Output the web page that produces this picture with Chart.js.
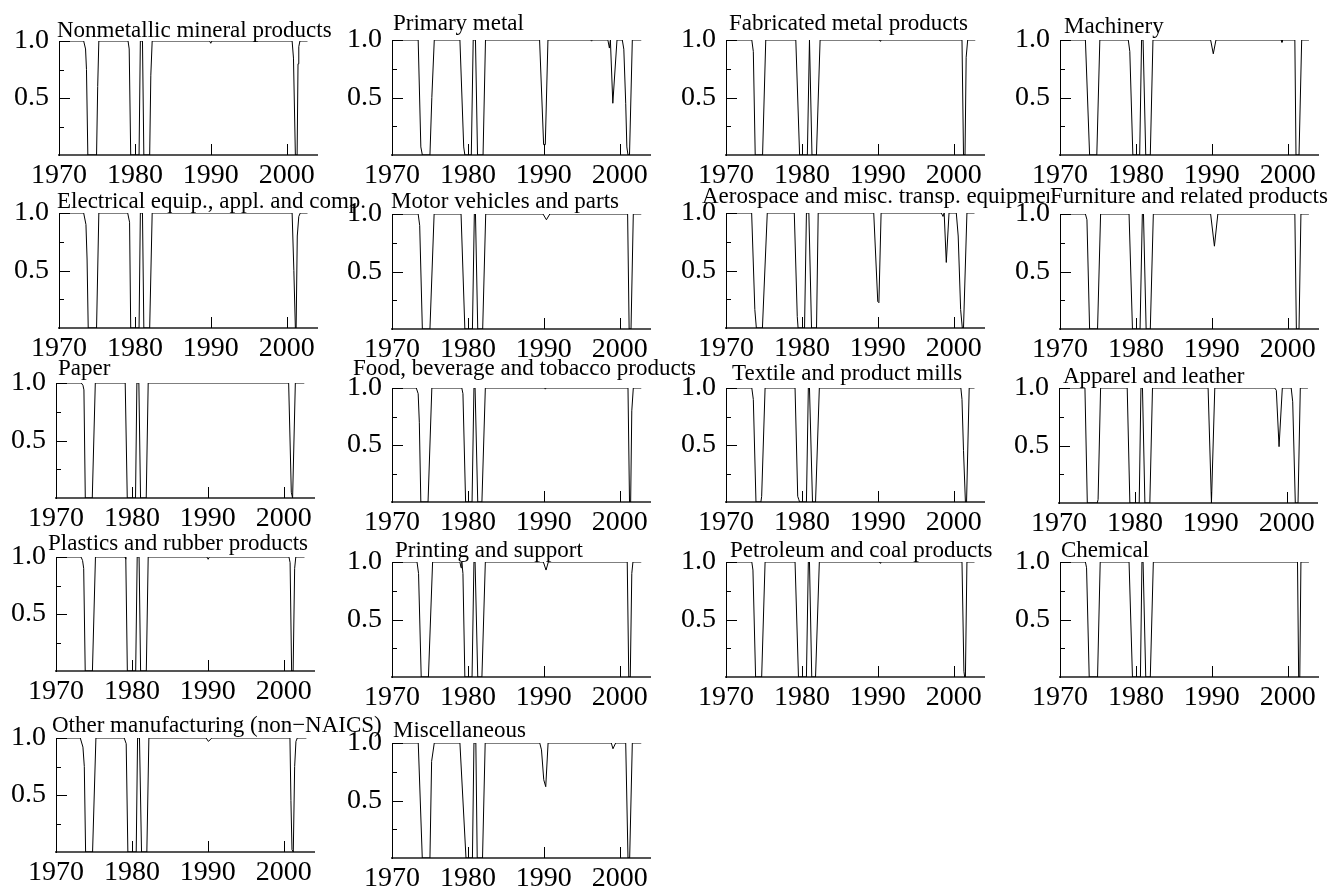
<!DOCTYPE html>
<html>
<head>
<meta charset="utf-8">
<script src="https://cdn.jsdelivr.net/npm/chart.js@4.4.1/dist/chart.umd.min.js"></script>
<style>
html, body { margin: 0; padding: 0; background: #fff; }
#wrap { position: relative; width: 1342px; height: 896px; overflow: hidden; }
#wrap canvas { position: absolute; left: 0; top: 0; }
</style>
</head>
<body>
<div id="wrap"></div>
<script>
// panel titles, in reading order
var sectors = [
  "Nonmetallic mineral products", "Primary metal", "Fabricated metal products", "Machinery",
  "Electrical equip., appl. and comp.", "Motor vehicles and parts", "Aerospace and misc. transp. equipment", "Furniture and related products",
  "Paper", "Food, beverage and tobacco products", "Textile and product mills", "Apparel and leather",
  "Plastics and rubber products", "Printing and support", "Petroleum and coal products", "Chemical",
  "Other manufacturing (non\u2212NAICS)", "Miscellaneous"
];

var yearTicks = [1970, 1980, 1990, 2000];
var probTicks = [0, 0.25, 0.5, 0.75, 1.0];
var probLabels = ["", "", "0.5", "", "1.0"];

// [year, probability]
var nonmetallic = [[1970,1],[1973.25,1],[1973.5,0.93],[1973.62,0.75],[1973.8,0],[1974.95,0],[1975.1,0.6],[1975.25,1],[1979.1,1],[1979.25,0.93],[1979.45,0],[1980.55,0],[1980.72,1],[1981.0,1],[1981.18,0],[1981.95,0],[1982.1,0.7],[1982.28,1],[1989.85,1],[1990.0,0.98],[1990.15,1],[2000.72,1],[2000.9,0.85],[2001.15,0],[2001.38,0],[2001.5,0.8],[2001.6,0.95],[2001.75,1],[2002.75,1]];
var primaryMetal = [[1970,1],[1973.45,1],[1973.8,0.07],[1974.0,0],[1975.0,0],[1975.25,0.5],[1975.57,1],[1978.95,1],[1979.45,0.07],[1979.6,0],[1980.45,0],[1980.7,1],[1981.0,1],[1981.27,0],[1982.0,0],[1982.32,1],[1989.45,1],[1989.98,0.09],[1990.2,0.09],[1990.55,1],[1996.2,1],[1996.3,0.99],[1996.4,1],[1998.45,1],[1998.65,0.93],[1998.78,1],[1999.1,0.45],[1999.65,1],[2000.35,1],[2000.55,0.92],[2000.8,0.45],[2000.95,0.07],[2001.1,0],[2001.3,0],[2001.67,1],[2002.85,1]];
var fabricated = [[1970,1],[1973.4,1],[1973.6,0.9],[1973.85,0],[1974.82,0],[1975.24,1],[1979.2,1],[1979.7,0],[1980.72,0],[1981.0,1],[1981.05,1],[1981.33,0],[1981.92,0],[1982.4,1],[1990.2,1],[1990.3,0.99],[1990.4,1],[2001.1,1],[2001.3,0],[2001.5,0],[2001.65,0.85],[2001.85,1],[2002.85,1]];
var machinery = [[1970,1],[1973.35,1],[1973.9,0],[1974.85,0],[1975.25,1],[1979.0,1],[1979.2,0.9],[1979.6,0],[1980.5,0],[1980.75,1],[1980.95,1],[1981.3,0],[1981.9,0],[1982.25,1],[1989.85,1],[1990.2,0.88],[1990.55,1],[1999.15,1],[1999.25,0.98],[1999.35,1],[2000.95,1],[2001.1,0],[2001.5,0],[2001.85,1],[2002.8,1]];
var electrical = [[1970,1],[1973.25,1],[1973.55,0.9],[1973.7,0.6],[1973.85,0],[1974.95,0],[1975.25,1],[1979.05,1],[1979.3,0.92],[1979.45,0],[1980.55,0],[1980.72,1],[1981.0,1],[1981.18,0],[1981.95,0],[1982.28,1],[2000.72,1],[2000.95,0.5],[2001.15,0],[2001.25,0],[2001.4,0.8],[2001.6,0.97],[2001.8,1],[2002.75,1]];
var motorVehicles = [[1970,1],[1973.45,1],[1973.65,0.9],[1974.0,0],[1975.0,0],[1975.55,1],[1979.1,1],[1979.6,0],[1980.6,0],[1980.85,1],[1981.0,1],[1981.3,0],[1981.95,0],[1982.35,1],[1989.9,1],[1990.35,0.95],[1990.8,1],[2001.05,1],[2001.25,0],[2001.5,0],[2001.8,1],[2002.85,1]];
var aerospace = [[1970,1],[1973.38,1],[1973.8,0.16],[1974.0,0],[1974.8,0],[1975.44,1],[1979.0,1],[1979.39,0.1],[1979.5,0],[1980.35,0],[1980.6,1],[1980.92,1],[1981.27,0],[1981.93,0],[1982.15,1],[1989.47,1],[1990.0,0.23],[1990.15,0.22],[1990.44,1],[1998.38,1],[1998.6,0.97],[1998.75,1],[1999.03,0.57],[1999.39,1],[2000.35,1],[2000.6,0.8],[2000.92,0.16],[2001.14,0],[2001.3,0],[2001.75,1],[2002.75,1]];
var furniture = [[1970,1],[1973.35,1],[1973.55,0.95],[1973.9,0],[1974.95,0],[1975.35,1],[1979.1,1],[1979.55,0],[1980.55,0],[1980.85,1],[1981.0,1],[1981.35,0],[1981.9,0],[1982.3,1],[1989.85,1],[1990.35,0.72],[1990.8,1],[2000.95,1],[2001.15,0],[2001.5,0],[2001.75,1],[2002.8,1]];
var paper = [[1970,1],[1973.33,1],[1973.55,0.98],[1973.68,0.94],[1973.86,0],[1974.78,0],[1975.18,1],[1979.12,1],[1979.39,0],[1980.48,0],[1980.66,1],[1980.92,1],[1981.14,0],[1981.89,0],[1982.15,1],[2000.66,1],[2001.01,0.05],[2001.18,0],[2001.54,1],[2002.72,1]];
var food = [[1970,1],[1973.2,1],[1973.45,0.95],[1973.6,0.7],[1973.8,0],[1974.75,0],[1975.25,1],[1979.2,1],[1979.35,0.95],[1979.7,0],[1980.55,0],[1980.8,1],[1980.95,1],[1981.3,0],[1981.85,0],[1982.3,1],[1990.1,1],[1990.2,0.99],[1990.3,1],[2001.1,1],[2001.3,0],[2001.45,0],[2001.6,0.8],[2001.8,1],[2002.85,1]];
var textile = [[1970,1],[1973.4,1],[1973.6,0.9],[1973.95,0],[1974.6,0],[1974.7,0.05],[1975.15,1],[1979.1,1],[1979.45,0.05],[1979.6,0.02],[1979.7,0],[1980.6,0],[1980.85,1],[1981.0,1],[1981.4,0],[1981.8,0],[1982.3,1],[2000.95,1],[2001.1,0.9],[2001.3,0.45],[2001.55,0],[2001.7,0],[2002.05,1],[2002.75,1]];
var apparel = [[1970,1],[1973.42,1],[1973.73,0],[1975.04,0],[1975.15,0.03],[1975.48,1],[1978.99,1],[1979.34,0],[1980.57,0],[1980.8,1],[1981.0,1],[1981.32,0],[1981.97,0],[1982.32,1],[1989.65,1],[1990.09,0],[1990.53,1],[1998.42,1],[1998.64,0.98],[1999.0,0.49],[1999.43,1],[2000.6,1],[2000.8,0.88],[2001.14,0],[2001.5,0],[2001.8,1],[2002.8,1]];
var plastics = [[1970,1],[1973.3,1],[1973.5,0.97],[1973.65,0.9],[1973.85,0],[1974.8,0],[1975.2,1],[1979.1,1],[1979.2,0.98],[1979.4,0],[1980.5,0],[1980.7,1],[1980.95,1],[1981.15,0],[1981.9,0],[1982.15,1],[1989.9,1],[1990.05,0.98],[1990.2,1],[2000.7,1],[2000.85,0.95],[2001.05,0],[2001.25,0],[2001.45,0.9],[2001.6,1],[2002.75,1]];
var printing = [[1970,1],[1973.3,1],[1973.5,0.9],[1973.85,0],[1974.8,0],[1975.35,1],[1978.95,1],[1979.1,0.95],[1979.2,1],[1979.35,0.9],[1979.6,0],[1980.55,0],[1980.8,1],[1980.95,1],[1981.3,0],[1981.85,0],[1982.3,1],[1989.95,1],[1990.3,0.93],[1990.6,1],[2001.0,1],[2001.2,0],[2001.4,0],[2001.6,0.9],[2001.75,1],[2002.85,1]];
var petroleum = [[1970,1],[1973.4,1],[1973.55,0.93],[1973.9,0],[1974.7,0],[1975.15,1],[1979.1,1],[1979.55,0],[1980.6,0],[1980.85,1],[1981.0,1],[1981.3,0],[1981.8,0],[1982.3,1],[1990.2,1],[1990.3,0.99],[1990.4,1],[2001.1,1],[2001.35,0.05],[2001.45,0],[2001.55,0],[2001.75,1],[2002.75,1]];
var chemical = [[1970,1],[1973.35,1],[1973.5,0.95],[1973.85,0],[1974.95,0],[1975.3,1],[1979.1,1],[1979.55,0],[1980.6,0],[1980.8,1],[1980.95,1],[1981.3,0],[1981.9,0],[1982.3,1],[2001.3,1],[2001.45,0],[2001.6,0],[2001.75,1],[2002.8,1]];
var otherMfg = [[1970,1],[1973.2,1],[1973.55,0.92],[1973.73,0.75],[1973.9,0],[1974.82,0],[1975.26,1],[1978.99,1],[1979.25,0.95],[1979.47,0],[1980.57,0],[1980.75,1],[1981.0,1],[1981.27,0],[1981.97,0],[1982.24,1],[1989.78,1],[1990.09,0.97],[1990.53,1],[2000.83,1],[2000.96,0.45],[2001.1,0.02],[2001.27,0],[2001.45,0.75],[2001.62,0.97],[2001.8,1],[2003.0,1]];
var miscellaneous = [[1970,1],[1973.46,1],[1973.99,0],[1975.0,0],[1975.22,0.84],[1975.57,1],[1978.95,1],[1979.75,0],[1980.6,0],[1980.8,1],[1981.05,1],[1981.23,0],[1981.93,0],[1982.28,1],[1989.47,1],[1989.7,0.94],[1990.0,0.68],[1990.26,0.62],[1990.57,1],[1998.9,1],[1999.12,0.95],[1999.47,1],[2000.8,1],[2001.1,0],[2001.32,0],[2001.67,1],[2002.85,1]];

var series = [nonmetallic, primaryMetal, fabricated, machinery,
  electrical, motorVehicles, aerospace, furniture,
  paper, food, textile, apparel,
  plastics, printing, petroleum, chemical,
  otherMfg, miscellaneous];

// where each panel sits on the page: axis origin, top (1.0), bottom (0), title anchor
var boxes = [
  {x0: 59, top: 41, bottom: 155, tx: 57, ty: 37},
  {x0: 392, top: 40, bottom: 155, tx: 393, ty: 30},
  {x0: 726, top: 40, bottom: 155, tx: 729, ty: 30},
  {x0: 1060, top: 40, bottom: 155, tx: 1064, ty: 33},
  {x0: 59, top: 213, bottom: 328, tx: 57, ty: 208},
  {x0: 392, top: 214, bottom: 329, tx: 391, ty: 208},
  {x0: 726, top: 213, bottom: 328, tx: 702, ty: 203},
  {x0: 1060, top: 214, bottom: 329, tx: 1050, ty: 203},
  {x0: 56, top: 383, bottom: 498, tx: 58, ty: 375},
  {x0: 392, top: 388, bottom: 502, tx: 353, ty: 375},
  {x0: 726, top: 388, bottom: 502, tx: 732, ty: 380},
  {x0: 1059, top: 388, bottom: 503, tx: 1063, ty: 383},
  {x0: 56, top: 557, bottom: 671, tx: 48, ty: 550},
  {x0: 392, top: 562, bottom: 677, tx: 395, ty: 557},
  {x0: 726, top: 562, bottom: 677, tx: 730, ty: 557},
  {x0: 1060, top: 562, bottom: 677, tx: 1061, ty: 557},
  {x0: 56, top: 738, bottom: 852, tx: 52, ty: 732},
  {x0: 392, top: 743, bottom: 858, tx: 393, ty: 737}
];

var PAGE_W = 1342, PAGE_H = 896;
var AXIS_W = 258, YLAB_W = 50, XLAB_H = 45;

Chart.defaults.font.family = "'Liberation Serif', 'Times New Roman', serif";
Chart.defaults.color = "#000";

// ticks in this style point inward, so draw them ourselves from the scales
var innerTicks = {
  id: "innerTicks",
  afterDraw: function(chart) {
    var ctx = chart.ctx, xs = chart.scales.x, ys = chart.scales.y, a = chart.chartArea;
    ctx.save();
    ctx.strokeStyle = "#000";
    ctx.lineWidth = 1;
    ctx.beginPath();
    for (var k = 0; k < probTicks.length; k++) {
      if (probTicks[k] === 0) continue;
      var y = Math.round(ys.getPixelForValue(probTicks[k])) + 0.5;
      var len = probLabels[k] ? 11 : 5;
      ctx.moveTo(a.left, y);
      ctx.lineTo(a.left + len, y);
    }
    for (var j = 0; j < yearTicks.length; j++) {
      if (yearTicks[j] === xs.min) continue;
      var x = Math.round(xs.getPixelForValue(yearTicks[j])) + 0.5;
      ctx.moveTo(x, a.bottom);
      ctx.lineTo(x, a.bottom - 11);
    }
    ctx.stroke();
    ctx.restore();
  }
};

function titlePlugin(text, tx, ty) {
  return {
    id: "panelTitle",
    beforeDraw: function(chart) {
      var ctx = chart.ctx;
      ctx.save();
      ctx.font = "23px 'Liberation Serif', 'Times New Roman', serif";
      var w = ctx.measureText(text).width;
      ctx.fillStyle = "#fff";
      ctx.fillRect(tx - 1, ty - 16, w + 2, 21);
      ctx.fillStyle = "#000";
      ctx.textBaseline = "alphabetic";
      ctx.fillText(text, tx, ty);
      ctx.restore();
    }
  };
}

var wrap = document.getElementById("wrap");

for (var i = 0; i < series.length; i++) {
  var b = boxes[i];
  var cv = document.createElement("canvas");
  cv.width = PAGE_W;
  cv.height = PAGE_H;
  wrap.appendChild(cv);

  new Chart(cv, {
    type: "line",
    data: {
      datasets: [{
        data: series[i].map(function(p) { return {x: p[0], y: p[1]}; }),
        borderColor: "#000",
        borderWidth: 1,
        pointRadius: 0,
        tension: 0,
        fill: false
      }]
    },
    options: {
      responsive: false,
      animation: false,
      events: [],
      layout: {
        padding: {
          left: b.x0 - YLAB_W,
          right: PAGE_W - b.x0 - AXIS_W,
          top: b.top,
          bottom: PAGE_H - b.bottom - XLAB_H
        }
      },
      plugins: { legend: { display: false }, tooltip: { enabled: false } },
      scales: {
        x: {
          type: "linear",
          min: 1970,
          max: 2004,
          afterFit: function(s) { s.height = XLAB_H; },
          afterBuildTicks: function(s) { s.ticks = yearTicks.map(function(v) { return {value: v}; }); },
          ticks: {
            callback: function(v) { return String(v); },
            font: { size: 28 },
            color: "#000",
            padding: 4,
            maxRotation: 0,
            autoSkip: false
          },
          grid: { drawOnChartArea: false, drawTicks: false },
          border: { color: "#555", width: 2 }
        },
        y: {
          min: 0,
          max: 1,
          afterFit: function(s) { s.width = YLAB_W; },
          afterBuildTicks: function(s) { s.ticks = probTicks.map(function(v) { return {value: v}; }); },
          ticks: {
            callback: function(v, idx) { return probLabels[idx]; },
            font: { size: 28 },
            color: "#000",
            padding: 10,
            autoSkip: false
          },
          grid: { drawOnChartArea: false, drawTicks: false },
          border: { color: "#000", width: 1 }
        }
      }
    },
    plugins: [titlePlugin(sectors[i], b.tx, b.ty), innerTicks]
  });
}
</script>
</body>
</html>
